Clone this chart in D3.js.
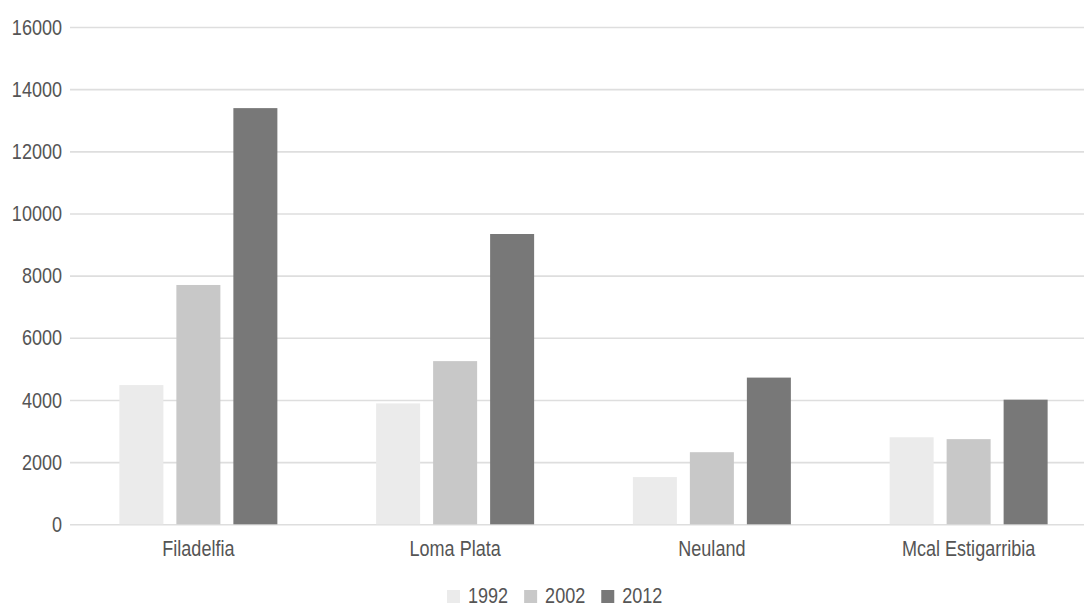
<!DOCTYPE html>
<html>
<head>
<meta charset="utf-8">
<script src="https://cdn.jsdelivr.net/npm/d3@7"></script>
<style>
    body { margin: 0; background: #fff; }
    svg text { font-family: "Liberation Sans Narrow", "Liberation Sans", Arial, sans-serif; fill: #555; }
</style>
</head>
<body>
<div id="chart"></div>
<script>
// Chart data
const cities = ["Filadelfia", "Loma Plata", "Neuland", "Mcal Estigarribia"];
const years = ["1992", "2002", "2012"];
const values1992 = [4480, 3890, 1520, 2800];
const values2002 = [7700, 5250, 2320, 2740];
const values2012 = [13390, 9340, 4720, 4010];
const yTicks = [0, 2000, 4000, 6000, 8000, 10000, 12000, 14000, 16000];
const colors = ["#ebebeb", "#c8c8c8", "#787878"];

// squeeze text horizontally, the reference uses a narrow face
const squeeze = 0.82;
function condense(sel) {
    sel.attr("x", function () { return (+this.getAttribute("x") || 0) / squeeze; })
        .attr("transform", `scale(${squeeze},1)`);
}

function createBarChart() {
    const width = 1084, height = 606;
    const left = 70, right = 1097, top = 27, bottom = 524.3;

    const series = [values1992, values2002, values2012];
    const rows = cities.map((c, i) => ({ city: c, vals: years.map((y, j) => ({ year: y, value: series[j][i] })) }));

    const svg = d3.select("#chart").append("svg")
        .attr("width", width)
        .attr("height", height);

    // Scales
    const x0 = d3.scaleBand().domain(cities).range([left, right]);
    const groupWidth = 158;
    const x1 = d3.scaleBand().domain(years).range([0, groupWidth]).paddingInner(0.228);
    const y = d3.scaleLinear().domain([0, 16000]).range([bottom, top]);
    const color = d3.scaleOrdinal().domain(years).range(colors);

    // Gridlines + y labels
    const yAxis = svg.append("g")
        .attr("transform", `translate(${left},0)`)
        .call(d3.axisLeft(y).tickValues(yTicks).tickFormat(d3.format("d"))
            .tickSize(-(right - left)).tickPadding(8));
    yAxis.select(".domain").remove();
    yAxis.selectAll(".tick line").attr("stroke", "#dedede").attr("stroke-width", 1.6);
    yAxis.selectAll(".tick text").style("font-size", "22px").call(condense);

    // Bars
    const offset = (x0.bandwidth() - groupWidth) / 2;
    const groups = svg.selectAll(".group")
        .data(rows)
        .enter().append("g")
        .attr("class", "group")
        .attr("transform", d => `translate(${x0(d.city) + offset},0)`);

    groups.selectAll("rect")
        .data(d => d.vals)
        .enter().append("rect")
        .attr("x", d => x1(d.year))
        .attr("width", x1.bandwidth())
        .attr("y", d => y(d.value))
        .attr("height", d => y(0) - y(d.value))
        .attr("fill", d => color(d.year));

    // Category labels
    const xAxis = svg.append("g")
        .attr("transform", `translate(0,${bottom})`)
        .call(d3.axisBottom(x0).tickSize(0).tickPadding(16));
    xAxis.select(".domain").remove();
    xAxis.selectAll(".tick text").style("font-size", "22px").call(condense);

    // Legend
    const legend = svg.append("g").attr("transform", "translate(0,595)");
    let cx = 447;
    years.forEach(yr => {
        legend.append("rect")
            .attr("x", cx).attr("y", -5)
            .attr("width", 13).attr("height", 13)
            .attr("fill", color(yr));
        const t = legend.append("text")
            .attr("x", cx + 21).attr("y", 0)
            .attr("dy", "0.35em")
            .style("font-size", "22px")
            .text(yr)
            .call(condense);
        cx += 21 + t.node().getComputedTextLength() * squeeze + 16;
    });
}

createBarChart();
</script>
</body>
</html>
